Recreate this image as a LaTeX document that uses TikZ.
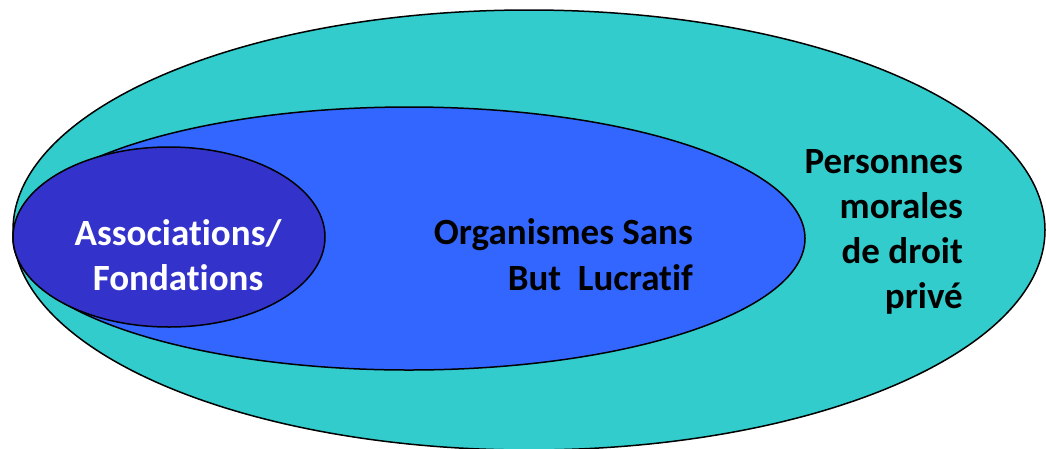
\documentclass[tikz,border=0pt]{standalone}
\usepackage{fontspec}
\setmainfont[Ligatures=NoCommon]{Carlito}
\usetikzlibrary{shapes.geometric}
\definecolor{outerc}{HTML}{33CCCC}
\definecolor{midc}{HTML}{3366FF}
\definecolor{innerc}{HTML}{3333CC}
\begin{document}
\begin{tikzpicture}[x=1pt,y=-1pt,
  blob/.style={draw=black,line width=1.5pt},
  lbl/.style={font=\fontsize{37}{44}\selectfont\bfseries,inner sep=0pt,anchor=base east},
  lblc/.style={font=\fontsize{37}{44}\selectfont\bfseries,inner sep=0pt,anchor=base,text=white}]
\useasboundingbox (0,0) rectangle (1046,448);
\fill[outerc,blob] (529,230) ellipse [x radius=516,y radius=220];
\fill[midc,blob] (409,238.5) ellipse [x radius=396,y radius=131.5];
\fill[innerc,blob] (169,237) ellipse [x radius=156,y radius=90];
\node[lblc] (a1) at (178,245) {Associations/};
\node[lblc] (a2) at (178,290) {Fondations};
\node[lbl] (o1) at (693,244) {Organismes Sans};
\node[lbl] (o2) at (693,290) {But\ \ Lucratif};
\node[lbl] (p1) at (963,173) {Personnes};
\node[lbl] (p2) at (963,218) {morales};
\node[lbl] (p3) at (963,263) {de droit};
\node[lbl] (p4) at (963,308) {privé};
\end{tikzpicture}
\end{document}
